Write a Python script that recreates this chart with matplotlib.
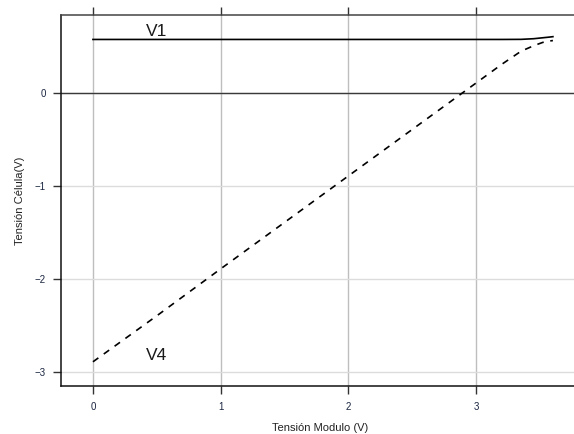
import matplotlib
matplotlib.use('Agg')
import matplotlib.pyplot as plt

plt.rcParams['font.family'] = ['Liberation Sans', 'DejaVu Sans']

# module voltage (x) and cell voltages
v_mod = [0.0, 0.5, 1.0, 1.5, 2.0, 2.5, 3.0, 3.2, 3.35, 3.45, 3.52, 3.57, 3.6]
v1 = [0.577, 0.577, 0.577, 0.577, 0.577, 0.577, 0.577, 0.577, 0.578, 0.585, 0.595, 0.602, 0.607]
v4 = [-2.89, -2.395, -1.89, -1.39, -0.89, -0.39, 0.11, 0.31, 0.45, 0.51, 0.545, 0.56, 0.565]

xticks = [0, 1, 2, 3]
yticks = [0, -1, -2, -3]

fig = plt.figure(figsize=(5.74, 4.34), dpi=100)
ax = fig.add_axes([61/574, 1 - 385.7/434, 1 - 61/574 + 0.01, (385.7 - 15)/434])

ax.set_xlim(-0.25, 3.81)
ax.set_ylim(-3.147, 0.84)

ax.xaxis.grid(True, color='#bebebe', linewidth=1.0)
ax.yaxis.grid(True, color='#dcdcdc', linewidth=1.0)
ax.set_axisbelow(True)
ax.axhline(0, color='#3a3a3a', linewidth=1.0)

ax.plot(v_mod, v1, color='black', linewidth=1.2)
ax.plot(v_mod, v4, color='black', linewidth=1.2, linestyle=(0, (4, 4)))

ax.text(0.5, 0.665, 'V1', fontsize=12.5, ha='center', va='center', color='#1a1a1a')
ax.text(0.5, -2.82, 'V4', fontsize=12.5, ha='center', va='center', color='#1a1a1a')

ax.set_xticks(xticks)
ax.set_yticks(yticks)
ax.set_xticklabels([str(t) for t in xticks])
ax.set_yticklabels(['0', '\u22121', '\u22122', '\u22123'])
ax.tick_params(axis='both', labelsize=7, colors='#333333', labelcolor='#1a2540',
               length=6, width=1.0)
ax.tick_params(axis='x', top=True, pad=6)
ax.tick_params(axis='y', pad=5)

for s in ['left', 'bottom']:
    ax.spines[s].set_color('#111111')
    ax.spines[s].set_linewidth(1.1)
ax.spines['top'].set_color('#444444')
ax.spines['top'].set_linewidth(1.1)
ax.spines['right'].set_visible(False)

ax.set_xlabel('Tensión Modulo (V)', fontsize=8, color='#222222', labelpad=8)
ax.set_ylabel('Tensión Célula(V)', fontsize=8, color='#222222', labelpad=7)

fig.savefig('out.png', dpi=100)
